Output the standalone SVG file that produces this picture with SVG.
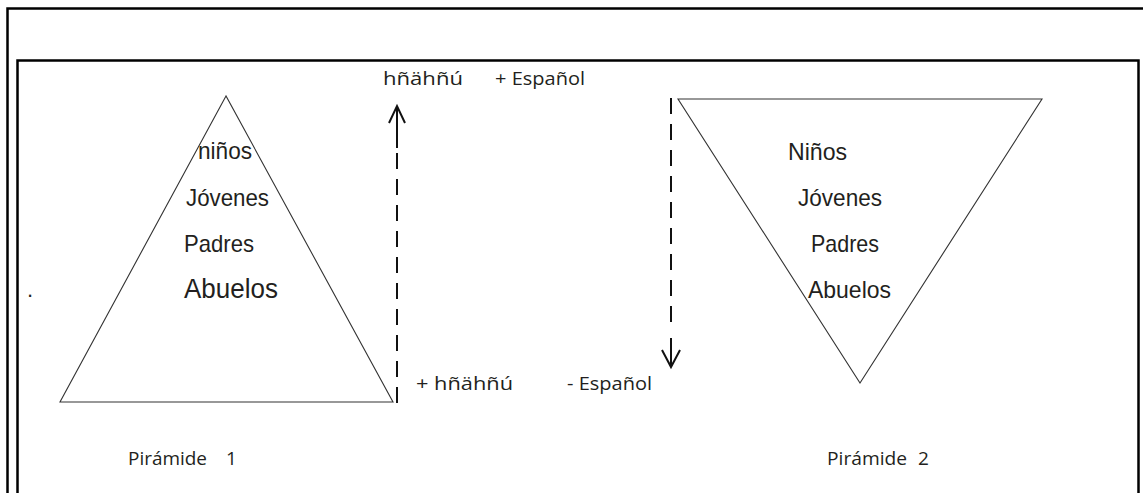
<svg xmlns="http://www.w3.org/2000/svg" width="1143" height="493" viewBox="0 0 1143 493">
<style>
.frame{fill:none;stroke:#000;stroke-width:2.5}
.tri{fill:none;stroke:#333;stroke-width:1.1}
.dash{fill:none;stroke:#111;stroke-width:2;stroke-dasharray:16 10}
.solid{fill:none;stroke:#111;stroke-width:2}
.head{fill:none;stroke:#111;stroke-width:2;stroke-linejoin:miter}
.ar{font-family:"Liberation Sans",Arial,sans-serif;fill:#231f20}
.ca{font-family:"Open Sans","Liberation Sans",sans-serif;fill:#231f20;font-size:19px}
</style>
<rect width="1143" height="493" fill="#fff"/>
<rect class="frame" x="7.5" y="8.5" width="1160" height="500"/>
<rect class="frame" x="17.5" y="60.5" width="1121" height="450"/>
<text class="ar" x="27" y="297" font-size="22">.</text>
<g id="pyramid1">
<polygon class="tri" points="226,96 60,402 393,402"/>
<text class="ar" x="198" y="159" font-size="24" textLength="54" lengthAdjust="spacingAndGlyphs">niños</text>
<text class="ar" x="186" y="206" font-size="24" textLength="83" lengthAdjust="spacingAndGlyphs">Jóvenes</text>
<text class="ar" x="184" y="252" font-size="24" textLength="70" lengthAdjust="spacingAndGlyphs">Padres</text>
<text class="ar" x="184" y="298" font-size="27" textLength="94" lengthAdjust="spacingAndGlyphs">Abuelos</text>
<text class="ca" x="128" y="465"><tspan textLength="79" lengthAdjust="spacingAndGlyphs">Pirámide</tspan><tspan x="226">1</tspan></text>
</g>
<g id="pyramid2">
<polygon class="tri" points="678,99 1042,99 860,383"/>
<text class="ar" x="788" y="160" font-size="24" textLength="59" lengthAdjust="spacingAndGlyphs">Niños</text>
<text class="ar" x="798" y="206" font-size="24" textLength="84" lengthAdjust="spacingAndGlyphs">Jóvenes</text>
<text class="ar" x="811" y="252" font-size="24" textLength="68" lengthAdjust="spacingAndGlyphs">Padres</text>
<text class="ar" x="808" y="298" font-size="24" textLength="83" lengthAdjust="spacingAndGlyphs">Abuelos</text>
<text class="ca" x="827" y="465"><tspan textLength="80" lengthAdjust="spacingAndGlyphs">Pirámide</tspan><tspan x="918">2</tspan></text>
</g>
<g id="labels">
<text class="ca" x="383" y="85" font-size="20" textLength="80" lengthAdjust="spacingAndGlyphs">hñähñú</text>
<text class="ca" x="495" y="85" font-size="20" textLength="90" lengthAdjust="spacingAndGlyphs">+ Español</text>
<text class="ca" x="416" y="390" font-size="20" textLength="97" lengthAdjust="spacingAndGlyphs">+ hñähñú</text>
<text class="ca" x="567" y="390" font-size="20" textLength="85" lengthAdjust="spacingAndGlyphs">- Español</text>
</g>
<g id="connectors">
<line class="dash" x1="397" y1="403" x2="397" y2="150"/>
<line class="solid" x1="397" y1="148" x2="397" y2="107"/>
<polyline class="head" points="389,123 397,106 405,123"/>
<line class="dash" x1="671" y1="98" x2="671" y2="332"/>
<line class="solid" x1="671" y1="338" x2="671" y2="366"/>
<polyline class="head" points="662,350 671,367 680,350"/>
</g>
</svg>
